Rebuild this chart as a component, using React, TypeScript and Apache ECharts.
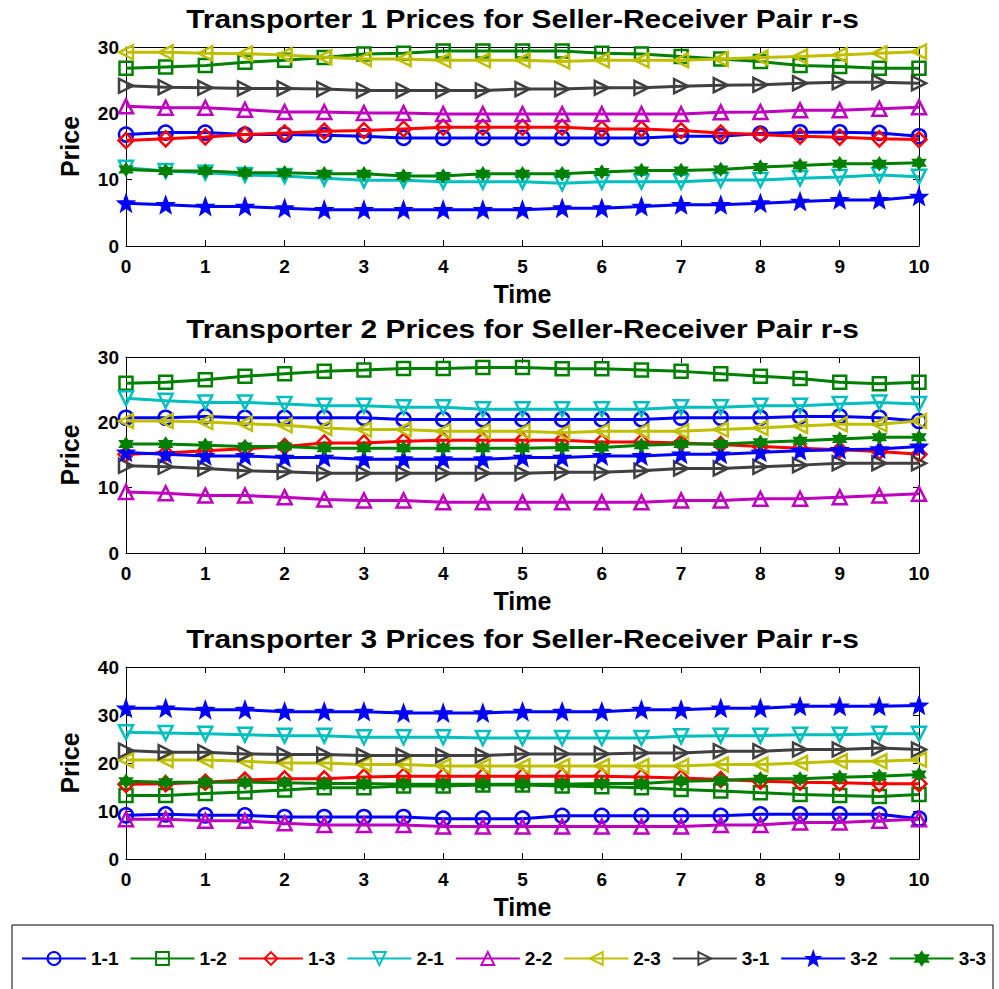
import React, { useEffect, useRef } from "react";
import * as echarts from "echarts";

const times = [0, 0.5, 1, 1.5, 2, 2.5, 3, 3.5, 4, 4.5, 5, 5.5, 6, 6.5, 7, 7.5, 8, 8.5, 9, 9.5, 10];
const pairNames = ["1-1", "1-2", "1-3", "2-1", "2-2", "2-3", "3-1", "3-2", "3-3"];
const panelTitles = [
  "Transporter 1 Prices for Seller-Receiver Pair r-s",
  "Transporter 2 Prices for Seller-Receiver Pair r-s",
  "Transporter 3 Prices for Seller-Receiver Pair r-s",
];
const yMaxes = [30, 30, 40];
const xTicksInterval = 1;
const yTicksInterval = 10;

// Transporter 1
const t1_11 = [16.8, 17.1, 17.1, 16.8, 16.8, 16.7, 16.55, 16.3, 16.3, 16.3, 16.3, 16.3, 16.3, 16.3, 16.55, 16.55, 16.95, 17.15, 17.15, 17.05, 16.55];
const t1_12 = [26.8, 27.0, 27.2, 27.7, 28.0, 28.4, 28.95, 29.05, 29.4, 29.4, 29.4, 29.4, 29.05, 28.95, 28.55, 28.2, 27.8, 27.2, 27.05, 26.8, 26.8];
const t1_13 = [15.9, 16.15, 16.45, 16.8, 17.05, 17.3, 17.4, 17.65, 17.9, 17.9, 17.9, 17.9, 17.65, 17.65, 17.4, 17.05, 16.8, 16.55, 16.4, 16.15, 16.05];
const t1_21 = [11.8, 11.3, 11.05, 10.7, 10.55, 10.2, 9.9, 9.9, 9.7, 9.7, 9.7, 9.45, 9.7, 9.7, 9.7, 9.95, 9.95, 10.2, 10.4, 10.7, 10.45];
const t1_22 = [21.05, 20.85, 20.85, 20.55, 20.2, 20.2, 20.05, 20.05, 19.9, 19.9, 19.9, 19.9, 19.9, 19.9, 19.9, 20.15, 20.2, 20.45, 20.45, 20.7, 20.9];
const t1_23 = [29.2, 29.2, 29.05, 29.0, 28.8, 28.45, 28.2, 28.2, 28.0, 28.0, 28.0, 27.8, 28.0, 28.0, 28.0, 28.2, 28.4, 28.55, 28.8, 29.05, 29.3];
const t1_31 = [24.15, 23.95, 23.85, 23.75, 23.75, 23.65, 23.45, 23.45, 23.45, 23.45, 23.65, 23.65, 23.85, 23.85, 24.1, 24.25, 24.3, 24.55, 24.7, 24.7, 24.55];
const t1_32 = [6.45, 6.2, 5.95, 5.95, 5.7, 5.45, 5.45, 5.45, 5.45, 5.45, 5.45, 5.7, 5.7, 5.95, 6.2, 6.2, 6.45, 6.7, 6.95, 6.95, 7.45];
const t1_33 = [11.55, 11.3, 11.3, 11.05, 11.05, 10.9, 10.9, 10.55, 10.55, 10.9, 10.9, 10.9, 11.15, 11.4, 11.4, 11.55, 11.9, 12.15, 12.4, 12.4, 12.55];

// Transporter 2
const t2_11 = [20.7, 20.7, 20.9, 20.7, 20.7, 20.7, 20.7, 20.45, 20.45, 20.45, 20.45, 20.45, 20.45, 20.45, 20.7, 20.7, 20.7, 20.9, 20.9, 20.7, 20.2];
const t2_12 = [26.0, 26.15, 26.5, 27.05, 27.45, 27.8, 28.0, 28.25, 28.25, 28.4, 28.4, 28.2, 28.2, 28.0, 27.8, 27.45, 27.05, 26.7, 26.15, 25.9, 26.15];
const t2_13 = [15.1, 15.3, 15.65, 15.95, 16.3, 16.85, 16.85, 17.1, 17.25, 17.25, 17.25, 17.25, 17.0, 17.0, 16.85, 16.6, 16.3, 16.05, 15.8, 15.55, 15.1];
const t2_21 = [23.7, 23.3, 23.05, 23.05, 22.8, 22.55, 22.55, 22.3, 22.3, 22.0, 22.0, 22.0, 22.0, 22.0, 22.3, 22.3, 22.55, 22.55, 22.8, 23.05, 22.8];
const t2_22 = [9.35, 9.15, 8.8, 8.8, 8.55, 8.2, 8.05, 8.05, 7.75, 7.75, 7.75, 7.75, 7.75, 7.75, 8.05, 8.05, 8.3, 8.3, 8.55, 8.8, 9.05];
const t2_23 = [20.2, 20.2, 20.05, 19.8, 19.55, 19.15, 18.9, 18.9, 18.65, 18.65, 18.65, 18.4, 18.65, 18.65, 18.65, 18.9, 19.15, 19.45, 19.7, 19.7, 20.2];
const t2_31 = [13.35, 13.2, 12.95, 12.6, 12.45, 12.2, 12.2, 12.2, 12.2, 12.2, 12.2, 12.35, 12.35, 12.6, 12.95, 12.95, 13.2, 13.45, 13.75, 13.75, 13.75];
const t2_32 = [15.4, 15.1, 14.85, 14.85, 14.6, 14.6, 14.35, 14.35, 14.35, 14.35, 14.6, 14.6, 14.85, 14.85, 15.1, 15.1, 15.4, 15.65, 15.8, 15.9, 16.3];
const t2_33 = [16.7, 16.7, 16.5, 16.3, 16.3, 16.05, 16.05, 16.05, 16.05, 16.05, 16.05, 16.15, 16.15, 16.5, 16.7, 16.7, 16.95, 17.2, 17.45, 17.7, 17.7];

// Transporter 3
const t3_11 = [9.1, 9.3, 9.1, 9.1, 8.75, 8.75, 8.75, 8.75, 8.4, 8.4, 8.4, 9.0, 9.0, 9.0, 9.0, 9.0, 9.3, 9.3, 9.3, 9.3, 8.4];
const t3_12 = [13.25, 13.25, 13.65, 13.95, 14.35, 14.85, 14.85, 15.2, 15.2, 15.4, 15.4, 15.2, 15.05, 14.85, 14.5, 14.15, 13.8, 13.45, 13.25, 13.0, 13.45];
const t3_13 = [15.55, 15.7, 16.0, 16.45, 16.7, 16.7, 17.1, 17.25, 17.25, 17.25, 17.25, 17.25, 17.25, 17.1, 16.9, 16.55, 16.2, 16.0, 15.9, 15.7, 15.7];
const t3_21 = [26.4, 26.25, 26.1, 25.9, 25.7, 25.7, 25.35, 25.35, 25.35, 25.2, 25.2, 25.2, 25.2, 25.2, 25.55, 25.7, 25.7, 25.9, 25.9, 26.1, 26.1];
const t3_22 = [8.3, 8.3, 7.95, 7.95, 7.45, 7.1, 7.1, 7.1, 6.75, 6.75, 6.75, 6.75, 6.75, 6.75, 6.75, 7.1, 7.1, 7.6, 7.6, 7.95, 8.3];
const t3_23 = [20.6, 20.6, 20.6, 20.35, 20.0, 20.0, 19.7, 19.7, 19.35, 19.35, 19.35, 19.35, 19.35, 19.35, 19.35, 19.7, 19.7, 20.0, 20.35, 20.35, 20.7];
const t3_31 = [22.6, 22.25, 22.25, 21.9, 21.75, 21.75, 21.55, 21.55, 21.55, 21.55, 21.9, 21.9, 21.9, 22.1, 22.1, 22.45, 22.45, 22.8, 22.8, 23.15, 22.8];
const t3_32 = [31.4, 31.4, 31.1, 31.1, 30.7, 30.7, 30.7, 30.4, 30.4, 30.4, 30.7, 30.7, 30.7, 31.1, 31.1, 31.4, 31.4, 31.8, 31.8, 31.8, 32.0];
const t3_33 = [16.2, 16.0, 16.0, 16.0, 15.9, 15.75, 15.75, 15.55, 15.55, 15.55, 15.55, 15.55, 15.75, 15.75, 16.2, 16.35, 16.7, 16.7, 17.05, 17.25, 17.6];

const panelData = [
  [t1_11, t1_12, t1_13, t1_21, t1_22, t1_23, t1_31, t1_32, t1_33],
  [t2_11, t2_12, t2_13, t2_21, t2_22, t2_23, t2_31, t2_32, t2_33],
  [t3_11, t3_12, t3_13, t3_21, t3_22, t3_23, t3_31, t3_32, t3_33],
];

const colors = ["#0000ff", "#008000", "#ff0000", "#00bfbf", "#bf00bf", "#bfbf00", "#404040", "#0000ff", "#008000"];

function starPath(points: number, inner: number): string {
  const pts: string[] = [];
  for (let i = 0; i < points * 2; i++) {
    const a = -Math.PI / 2 + (i * Math.PI) / points;
    const r = i % 2 === 0 ? 10 : 10 * inner;
    pts.push(`${(10 + r * Math.cos(a)).toFixed(2)},${(10 + r * Math.sin(a)).toFixed(2)}`);
  }
  return "path://M" + pts.join(" L") + " Z";
}

const symbols = [
  "circle",
  "rect",
  "diamond",
  "path://M0,0 L10,0 L5,10 Z",
  "path://M5,0 L10,10 L0,10 Z",
  "path://M10,0 L10,10 L0,5 Z",
  "path://M0,0 L10,5 L0,10 Z",
  starPath(5, 0.42),
  starPath(6, 0.58),
];
const symbolSizes = [14, 13, 15, 14, 14, 14, 14, 14, 11];
const filledSymbol = [false, false, false, false, false, false, false, true, true];

const FONT = "Liberation Sans, Arial, sans-serif";
const gridLeft = 126;
const gridWidth = 793;
const gridTops = [47, 357, 667];
const gridHeights = [199, 196, 192];

export default function App() {
  const ref = useRef<HTMLDivElement>(null);
  useEffect(() => {
    if (!ref.current) return;
    const chart = echarts.init(ref.current, undefined, { renderer: "svg" });

    const grids: any[] = [];
    const xAxes: any[] = [];
    const yAxes: any[] = [];
    const series: any[] = [];
    const graphics: any[] = [];

    for (let p = 0; p < 3; p++) {
      grids.push({ left: gridLeft, top: gridTops[p], width: gridWidth, height: gridHeights[p], show: false });
      const baseX = {
        type: "value",
        gridIndex: p,
        min: 0,
        max: 10,
        interval: xTicksInterval,
        splitLine: { show: false },
        axisLine: { show: true, onZero: false, lineStyle: { color: "#000", width: 1 } },
        axisTick: { show: true, inside: true, length: 6, lineStyle: { color: "#000" } },
      };
      xAxes.push({
        ...baseX,
        position: "bottom",
        axisLabel: { show: true, color: "#000", fontSize: 19, fontWeight: "bold", fontFamily: FONT, margin: 11 },
      });
      xAxes.push({ ...baseX, position: "top", axisLabel: { show: false } });
      const baseY = {
        type: "value",
        gridIndex: p,
        min: 0,
        max: yMaxes[p],
        interval: yTicksInterval,
        splitLine: { show: false },
        axisLine: { show: true, onZero: false, lineStyle: { color: "#000", width: 1 } },
        axisTick: { show: true, inside: true, length: 6, lineStyle: { color: "#000" } },
      };
      yAxes.push({
        ...baseY,
        position: "left",
        axisLabel: { show: true, color: "#000", fontSize: 19, fontWeight: "bold", fontFamily: FONT, margin: 7 },
      });
      yAxes.push({ ...baseY, position: "right", axisLabel: { show: false } });

      panelData[p].forEach((vals, k) => {
        series.push({
          name: pairNames[k],
          type: "line",
          xAxisIndex: p * 2,
          yAxisIndex: p * 2,
          data: times.map((t, i) => [t, vals[i]]),
          symbol: symbols[k],
          symbolSize: symbolSizes[k],
          showAllSymbol: true,
          lineStyle: { color: colors[k], width: 3 },
          itemStyle: {
            color: filledSymbol[k] ? colors[k] : "rgba(255,255,255,0)",
            borderColor: colors[k],
            borderWidth: 2.5,
          },
          emphasis: { disabled: true },
          z: 2 + k,
        });
      });

      graphics.push({
        type: "text",
        x: gridLeft + gridWidth / 2,
        y: gridTops[p] - 28,
        scaleX: 1.15,
        style: {
          text: panelTitles[p],
          fill: "#000",
          font: `bold 26px ${FONT}`,
          textAlign: "center",
          textVerticalAlign: "middle",
        },
      });
      graphics.push({
        type: "text",
        x: gridLeft + gridWidth / 2,
        y: gridTops[p] + gridHeights[p] + 48,
        style: {
          text: "Time",
          fill: "#000",
          font: `bold 25px ${FONT}`,
          textAlign: "center",
          textVerticalAlign: "middle",
        },
      });
      graphics.push({
        type: "text",
        x: 70,
        y: gridTops[p] + gridHeights[p] / 2,
        rotation: Math.PI / 2,
        style: {
          text: "Price",
          fill: "#000",
          font: `bold 25px ${FONT}`,
          textAlign: "center",
          textVerticalAlign: "middle",
        },
      });
    }

    graphics.push({
      type: "rect",
      shape: { x: 12, y: 925, width: 981, height: 80 },
      style: { fill: "none", stroke: "#000", lineWidth: 1 },
      z: 0,
    });

    chart.setOption({
      animation: false,
      backgroundColor: "#fff",
      grid: grids,
      xAxis: xAxes,
      yAxis: yAxes,
      series,
      legend: {
        data: pairNames,
        left: 21,
        top: 949,
        padding: 0,
        itemWidth: 64,
        itemHeight: 16,
        itemGap: 11,
        selectedMode: false,
        textStyle: { color: "#000", fontSize: 19, fontWeight: "bold", fontFamily: FONT },
      },
      graphic: graphics,
    });

    return () => chart.dispose();
  }, []);

  return (
    <div
      ref={ref}
      style={{ position: "absolute", left: 0, top: 0, width: 999, height: 989, background: "#fff" }}
    />
  );
}
